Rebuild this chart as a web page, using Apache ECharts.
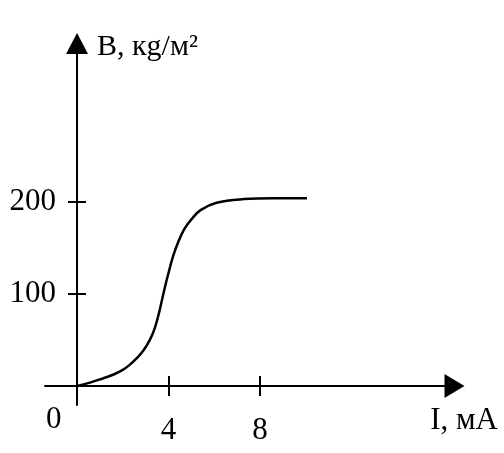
<!DOCTYPE html>
<html><head><meta charset="utf-8">
<script src="https://cdn.jsdelivr.net/npm/echarts@6/dist/echarts.min.js"></script>
<style>html,body{margin:0;padding:0;background:#fff}#c{width:504px;height:453px}</style>
</head><body><div id="c"></div>
<script>
const currentI = [0, 0.6, 1.15, 1.6, 2.0, 2.3, 2.6, 2.9, 3.2, 3.4, 3.6, 3.8, 4.0, 4.2, 4.45, 4.7, 5.0, 5.4, 6.1, 7.3, 8.6, 10.05];
const inductionB = [0, 4, 8.5, 12.5, 17.5, 23, 30, 38.5, 51, 63, 81, 103, 123, 141, 158, 171, 181, 191, 199, 203, 204, 204];
const xTicks = [4, 8];
const yTicks = [100, 200];
const xName = 'I, мА';
const yName = 'B, кg/м²';
const originLabel = '0';

const FONT = '"Liberation Serif", "Times New Roman", serif';
const xMin = -1.4, xMax = 16.5, yMin = -20.6, yMax = 372;

const chart = echarts.init(document.getElementById('c'));
const baseX = {
  type: 'value', min: xMin, max: xMax, gridIndex: 0,
  splitLine: {show: false},
  axisLine: {onZero: true, onZeroAxisIndex: 0, lineStyle: {color: '#000', width: 2}},
};
const baseY = {
  type: 'value', min: yMin, max: yMax, gridIndex: 0,
  splitLine: {show: false},
  axisLine: {onZero: true, onZeroAxisIndex: 0, lineStyle: {color: '#000', width: 2}},
};
chart.setOption({
  animation: false,
  backgroundColor: '#fff',
  grid: {left: 45, right: 49.5, top: 43.5, bottom: 48, containLabel: false, outerBoundsMode: 'none'},
  xAxis: [
    Object.assign({}, baseX, {
      position: 'bottom',
      axisLine: Object.assign({}, baseX.axisLine, {symbol: ['none', 'triangle'], symbolSize: [24, 20]}),
      axisTick: {show: true, inside: false, length: 10, customValues: xTicks, lineStyle: {color: '#000', width: 2}},
      axisLabel: {show: true, customValues: xTicks, margin: 10, fontFamily: FONT, fontSize: 31, color: '#000'}
    }),
    Object.assign({}, baseX, {
      position: 'bottom',
      axisLine: Object.assign({}, baseX.axisLine, {show: false}),
      axisTick: {show: true, inside: true, length: 10, customValues: xTicks, lineStyle: {color: '#000', width: 2}},
      axisLabel: {show: false}
    })
  ],
  yAxis: [
    Object.assign({}, baseY, {
      position: 'left',
      name: yName, nameLocation: 'end', nameGap: -4, nameMoveOverlap: false,
      nameTextStyle: {fontFamily: FONT, fontSize: 30, color: '#000', align: 'left', verticalAlign: 'middle', padding: [0, 0, 0, 20]},
      axisLine: Object.assign({}, baseY.axisLine, {symbol: ['none', 'triangle'], symbolSize: [22, 21]}),
      axisTick: {show: true, inside: false, length: 9, customValues: yTicks, lineStyle: {color: '#000', width: 2}},
      axisLabel: {show: true, customValues: yTicks, margin: -11, fontFamily: FONT, fontSize: 31, color: '#000'}
    }),
    Object.assign({}, baseY, {
      position: 'left',
      axisLine: Object.assign({}, baseY.axisLine, {show: false}),
      axisTick: {show: true, inside: true, length: 9, customValues: yTicks, lineStyle: {color: '#000', width: 2}},
      axisLabel: {show: false}
    })
  ],
  graphic: [{
    type: 'text', left: 46, top: 404,
    style: {text: originLabel, font: '31px ' + FONT, fill: '#000'}
  }, {
    type: 'text', right: 6, top: 405,
    style: {text: xName, font: '31px ' + FONT, fill: '#000'}
  }],
  series: [{
    type: 'line', xAxisIndex: 0, yAxisIndex: 0,
    data: currentI.map((x, i) => [x, inductionB[i]]),
    smooth: 0.4, showSymbol: false,
    lineStyle: {color: '#000', width: 2.5}
  }]
});
</script></body></html>
